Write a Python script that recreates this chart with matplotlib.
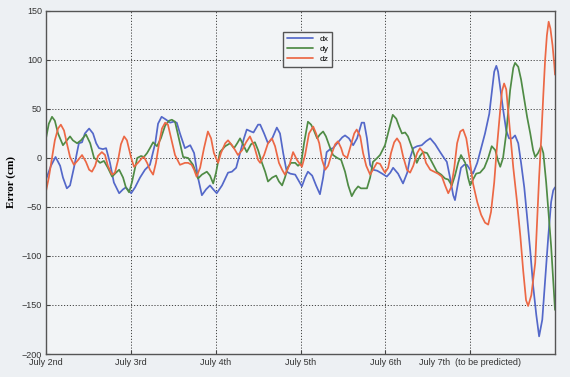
import matplotlib.pyplot as plt

# hours since July 2nd 00:00, values in cm
t_dx = [0.0, 1.4, 2.7, 4.0, 4.8, 5.9, 6.8, 7.9, 9.3, 10.2, 11.0, 12.2, 13.3, 14.2, 15.0, 16.1, 17.0, 18.1, 19.2, 20.7,
        21.8, 22.6, 24.1, 25.2, 26.6, 28.0, 29.4, 30.9, 31.7, 32.7, 34.0, 35.1, 36.1, 37.0, 37.9, 39.3, 40.8, 41.9, 43.0, 44.1,
        45.3, 46.4, 47.3, 48.3, 49.8, 51.5, 52.6, 53.8, 54.9, 56.0, 56.8, 58.0, 58.7, 60.0, 60.6, 61.7, 62.8, 64.0, 65.3, 66.2,
        67.1, 68.1, 69.1, 70.5, 71.3, 72.4, 73.3, 74.1, 75.3, 76.4, 77.5, 78.4, 79.4, 80.4, 81.2, 82.6, 83.8, 84.6, 85.7, 86.9,
        88.0, 89.3, 90.0, 90.8, 91.7, 92.5, 93.7, 95.1, 96.4, 97.4, 98.2, 99.6, 101.0, 102.2, 103.0, 103.9, 105.0, 106.3, 107.5, 108.7,
        110.1, 111.5, 112.6, 113.4, 114.3, 115.2, 115.7, 116.6, 117.4, 118.3, 119.1, 120.0, 120.8, 122.0, 123.1, 124.2, 125.4, 126.2, 126.8, 127.4,
        127.9, 128.5, 129.3, 130.2, 131.0, 131.9, 132.7, 133.6, 134.4, 135.3, 136.1, 137.0, 137.8, 138.7, 139.5, 140.4, 141.2, 142.1, 142.9, 143.5, 144.0]
dx = [-22, -8, 1, -8, -20, -31, -28, -10, 15, 16, 25, 30, 25, 15, 10, 9, 10, -5, -25, -36,
      -32, -30, -36, -30, -20, -12, -7, 15, 35, 42, 39, 36, 37, 36, 25, 10, 13, 5, -20, -38,
      -32, -28, -32, -36, -28, -15, -14, -10, 5, 20, 29, 27, 26, 34, 34, 25, 15, 20, 31, 25,
      5, -14, -16, -17, -22, -29, -20, -14, -18, -28, -37, -20, 6, 9, 10, 16, 21, 23, 20, 13,
      20, 36, 36, 20, -7, -12, -13, -16, -19, -15, -10, -16, -26, -15, 0, 10, 12, 13, 17, 20,
      14, 6, 0, -4, -20, -38, -43, -25, -10, -7, -7, -12, -16, -5, 10, 25, 45, 70, 88, 94,
      88, 72, 50, 28, 20, 20, 23, 15, -5, -30, -60, -95, -130, -160, -182, -165, -125, -80, -45, -33, -30]

t_dy = [0.0, 0.8, 1.7, 2.5, 3.4, 4.8, 5.9, 6.8, 7.6, 8.8, 9.9, 11.3, 12.5, 13.6, 14.4, 15.3, 16.4, 17.5, 18.7, 19.8,
        20.7, 21.8, 22.6, 23.5, 24.3, 25.8, 26.9, 27.7, 28.6, 29.4, 30.3, 31.4, 32.5, 33.7, 34.8, 35.6, 36.5, 37.6, 38.8, 40.2,
        41.6, 43.0, 44.1, 45.5, 46.4, 47.3, 48.1, 49.2, 50.7, 52.1, 53.2, 54.1, 54.9, 56.0, 56.8, 58.0, 59.1, 60.0, 61.1, 62.0,
        62.8, 64.0, 65.1, 65.9, 66.8, 67.6, 68.5, 69.3, 70.5, 71.3, 72.2, 73.0, 74.1, 75.0, 75.8, 76.7, 77.5, 78.4, 79.2, 80.4,
        81.2, 82.4, 83.5, 84.6, 85.5, 86.5, 87.4, 88.3, 89.1, 90.0, 90.8, 91.7, 92.5, 93.7, 94.5, 95.9, 97.1, 98.1, 99.1, 99.9,
        100.7, 101.6, 102.4, 103.6, 104.9, 105.8, 106.7, 107.8, 109.0, 110.6, 111.8, 112.9, 113.8, 114.8, 115.7, 116.6, 117.4, 118.6, 119.4, 120.0,
        120.8, 121.7, 122.8, 124.0, 125.1, 126.1, 127.1, 127.9, 128.5, 129.3, 130.2, 131.3, 132.2, 132.7, 133.6, 134.4, 135.3, 136.1, 137.0, 137.8,
        138.4, 139.2, 140.1, 140.7, 141.5, 142.1, 142.9, 143.5, 144.0]
dy = [20, 35, 42, 38, 25, 13, 18, 22, 18, 15, 18, 24, 15, 0, -2, -5, -3, -10, -19, -15,
      -12, -20, -30, -35, -25, 0, 2, 1, 5, 10, 16, 12, 20, 33, 38, 39, 37, 20, 1, 0,
      -7, -21, -17, -14, -18, -26, -15, 6, 12, 15, 10, 15, 20, 12, 6, 14, 16, 8, -5, -14,
      -24, -20, -18, -24, -28, -20, -9, -5, -5, -8, -5, 15, 37, 34, 28, 20, 24, 27, 22, 10,
      3, 0, -2, -14, -28, -39, -33, -29, -31, -31, -31, -20, -4, 0, 3, 13, 30, 44, 40, 32,
      25, 26, 22, 10, -5, 2, 6, 5, -3, -14, -17, -21, -22, -28, -18, -5, 3, -5, -20, -28,
      -22, -16, -15, -10, 0, 12, 8, -3, -9, 0, 25, 69, 92, 97, 93, 80, 60, 42, 25, 8,
      1, 5, 12, 5, -25, -53, -90, -125, -155]

t_dz = [0.0, 0.8, 1.7, 2.5, 3.4, 4.2, 5.1, 5.9, 6.8, 7.9, 9.1, 10.2, 11.3, 12.2, 13.0, 13.9, 14.7, 15.8, 16.7, 17.5,
        18.7, 19.5, 20.4, 21.2, 22.1, 22.9, 24.1, 24.9, 26.0, 27.2, 27.7, 28.6, 29.4, 30.3, 31.1, 32.0, 32.8, 33.7, 34.5, 35.4,
        36.5, 37.9, 39.3, 40.2, 41.2, 41.9, 42.6, 43.6, 44.7, 45.8, 46.7, 47.5, 48.7, 49.5, 50.7, 51.5, 52.6, 53.5, 54.3, 55.5,
        56.6, 57.7, 58.9, 60.0, 60.6, 61.7, 62.8, 63.9, 64.8, 65.9, 66.8, 67.6, 68.8, 69.9, 71.0, 72.4, 73.3, 74.4, 75.6, 76.4,
        77.3, 78.1, 79.0, 79.8, 80.9, 81.8, 82.6, 83.5, 84.1, 85.2, 86.0, 87.2, 87.9, 88.9, 89.7, 90.6, 91.7, 92.5, 93.6, 94.5,
        95.4, 95.9, 96.8, 97.6, 98.5, 99.3, 100.2, 101.0, 102.1, 103.0, 103.9, 105.0, 105.8, 106.7, 107.5, 108.7, 109.8, 110.9, 112.0, 112.9,
        113.8, 114.6, 115.5, 116.3, 117.2, 118.0, 118.9, 120.0, 120.8, 122.0, 123.1, 124.2, 125.1, 125.9, 126.8, 127.5, 128.5, 129.0, 129.6, 130.2,
        130.7, 131.3, 132.2, 133.2, 134.2, 135.0, 135.8, 136.4, 137.3, 137.8, 138.4, 139.0, 139.5, 140.1, 140.7, 141.2, 141.7, 142.2, 142.7, 143.3,
        143.8, 144.0]
dz = [-34, -20, 0, 18, 30, 34, 28, 15, 1, -7, -2, 3, -4, -12, -14, -8, 2, 6, 3, -8,
      -17, -15, -2, 14, 22, 18, 0, -9, -5, 0, 1, -5, -12, -17, -5, 15, 30, 36, 34, 20,
      3, -7, -5, -5, -7, -12, -19, -10, 10, 27, 20, 5, -5, 5, 15, 18, 13, 8, 3, 8,
      16, 22, 12, -2, -5, 3, 15, 20, 12, -5, -12, -17, -8, 6, -2, -9, 3, 25, 32, 25,
      15, -2, -12, -8, 5, 14, 17, 10, 3, 0, 10, 25, 29, 22, 5, -8, -17, -12, -5, -6,
      -12, -15, -10, 5, 16, 20, 15, 2, -12, -15, -8, 5, 10, 6, -5, -12, -14, -16, -19, -28,
      -36, -30, -10, 15, 27, 29, 20, -5, -26, -45, -58, -66, -68, -55, -25, 8, 49, 68, 76, 70,
      50, 25, -10, -43, -80, -115, -145, -151, -140, -125, -107, -60, -20, 20, 65, 100, 125, 139, 132, 115,
      95, 85]

tick_pos = [0, 24, 48, 72, 96, 120]
tick_labels = ['July 2nd', 'July 3rd', 'July 4th', 'July 5th', 'July 6th', 'July 7th  (to be predicted)']

plt.rcParams['font.family'] = ['Liberation Sans', 'DejaVu Sans']

fig = plt.figure(figsize=(5.7, 3.77), dpi=100, facecolor='#edf0f3')
ax = fig.add_axes([0.0807, 0.061, 0.893, 0.910])
ax.set_facecolor('#f2f4f6')

line_kw = dict(lw=1.25, solid_joinstyle='round', solid_capstyle='round')
ax.plot(t_dx, dx, color='#5468c9', label='dx', **line_kw)
ax.plot(t_dy, dy, color='#4f8b45', label='dy', **line_kw)
ax.plot(t_dz, dz, color='#ec6845', label='dz', **line_kw)

ax.set_xlim(0, 144)
ax.set_ylim(-200, 150)
ax.set_xticks(tick_pos)
ax.set_xticklabels(tick_labels)
ax.set_yticks(range(-200, 151, 50))
ax.tick_params(direction='in', length=3, labelsize=6.5, labelcolor='#333333', color='#444444', pad=3)
ax.grid(True, color='#444444', linestyle=(0, (1.2, 1.8)), linewidth=0.7)
for s in ax.spines.values():
    s.set_color('#555555')
    s.set_linewidth(1.0)

ax.set_ylabel('Error (cm)', family='Liberation Serif', fontweight='bold', fontsize=8, labelpad=4)

ax.legend(loc='upper left', bbox_to_anchor=(0.458, 0.952), fontsize=6, handlelength=3.2,
          fancybox=False, edgecolor='#555555', facecolor='#f2f4f6', framealpha=1,
          borderpad=0.4, labelspacing=0.3)

fig.savefig('out.png', dpi=100, facecolor=fig.get_facecolor())
